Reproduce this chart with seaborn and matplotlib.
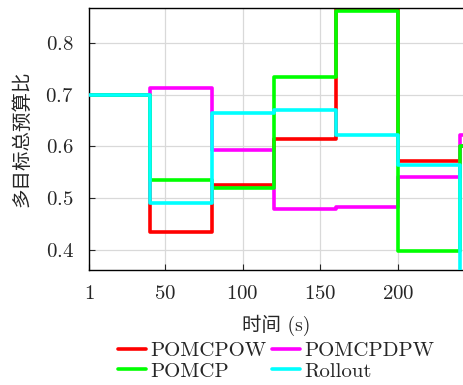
import numpy as np
import pandas as pd
import seaborn as sns
import matplotlib.pyplot as plt

# change points (s) and the value held from each one on
times = [1, 40, 80, 120, 160, 200, 240, 253]
pomcpow = [0.700, 0.435, 0.525, 0.614, 0.866, 0.572, 0.600, 0.600]
pomcpdpw = [0.700, 0.713, 0.594, 0.480, 0.482, 0.540, 0.622, 0.622]
pomcp = [0.700, 0.535, 0.520, 0.735, 0.862, 0.397, 0.600, 0.600]
rollout = [0.700, 0.490, 0.665, 0.670, 0.623, 0.564, 0.300, 0.300]

names = ["POMCPOW", "POMCPDPW", "POMCP", "Rollout"]
colors = {"POMCPOW": "#ff0000", "POMCPDPW": "#ff00ff",
          "POMCP": "#00ff00", "Rollout": "#00ffff"}

df = pd.concat([
    pd.DataFrame({"t": times, "v": vals, "method": name})
    for name, vals in zip(names, [pomcpow, pomcpdpw, pomcp, rollout])
])

sns.set_style("ticks")
plt.rcParams["font.family"] = ["cmr10", "Noto Sans CJK SC", "DejaVu Sans"]
plt.rcParams["axes.formatter.use_mathtext"] = True
plt.rcParams["font.size"] = 15

fig = plt.figure(figsize=(4.64, 3.85), dpi=100)
ax = fig.add_axes([89 / 464, 115 / 385, 391 / 464, 262 / 385])

sns.lineplot(data=df, x="t", y="v", hue="method", hue_order=names,
             palette=colors, drawstyle="steps-post", lw=2.6, ax=ax,
             legend=False)
# rollout on top
for ln in ax.lines:
    if ln.get_color() == "#00ffff":
        ln.set_zorder(5)

ax.set_xlim(1, 253)
ax.set_ylim(0.361, 0.868)
ax.set_xticks([1, 50, 100, 150, 200])
ax.set_yticks([0.4, 0.5, 0.6, 0.7, 0.8])
ax.grid(True, color="#d9d9d9", lw=0.9)
ax.tick_params(direction="in", length=4, width=0.8, labelsize=15, pad=11)
ax.spines["right"].set_visible(False)
for s in ["left", "bottom", "top"]:
    ax.spines[s].set_linewidth(1.0)
    ax.spines[s].set_color("black")

ax.set_xlabel("时间 (s)", fontsize=14)
ax.xaxis.set_label_coords(0.478, -0.17)
ax.set_ylabel("多目标总预算比", fontsize=14)
ax.yaxis.set_label_coords(-0.146, 0.5)

handles = [plt.Line2D([], [], color=colors[n], lw=2.6) for n in names]
order = [0, 2, 1, 3]
fig.legend([handles[i] for i in order], [names[i] for i in order],
           ncol=2, loc="center", bbox_to_anchor=(0.595, 0.062), frameon=False,
           fontsize=15, handlelength=1.35, handletextpad=0.2,
           columnspacing=0.3, labelspacing=0.1, borderpad=0)

fig.savefig("out.png", dpi=100)
